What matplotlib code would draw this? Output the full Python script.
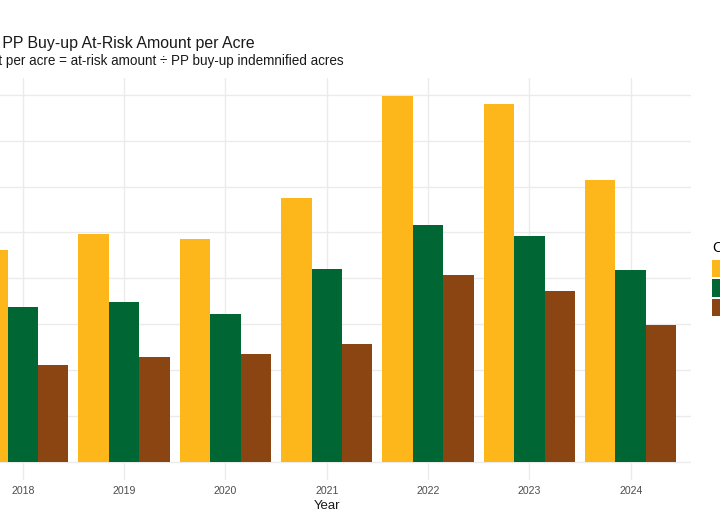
import numpy as np
import matplotlib
matplotlib.use("Agg")
import matplotlib.pyplot as plt

plt.rcParams['font.family'] = ['Liberation Sans', 'DejaVu Sans']

years = ["2018", "2019", "2020", "2021", "2022", "2023", "2024"]
crops = ["Corn", "Soybeans", "Wheat"]
corn = [46.1, 49.6, 48.6, 57.6, 79.7, 78.1, 61.5]
soybeans = [33.7, 34.9, 32.2, 42.1, 51.7, 49.3, 41.9]
wheat = [21.0, 22.9, 23.5, 25.7, 40.8, 37.2, 29.8]
colors = ["#FDB71B", "#006633", "#8B4513"]

series = [corn, soybeans, wheat]
x = np.arange(len(years))
width = 0.9 / 3

fig = plt.figure(figsize=(7.2, 5.3), dpi=100)
# panel runs a little past the left edge (the reference is cropped there)
ax = fig.add_axes([-0.0529, 0.0943, 1.0133, 0.7585])

for i, (vals, name, col) in enumerate(zip(series, crops, colors)):
    ax.bar(x + (i - 1) * width, vals, width=width, color=col, label=name,
           edgecolor="none", zorder=2)

ymax = max(max(s) for s in series)
ax.set_xlim(-0.6, len(years) - 0.4)
ax.set_ylim(-0.05 * ymax, 1.05 * ymax)
ax.set_xticks(x)
ax.set_xticklabels(years)
ax.set_yticks(np.arange(0, 81, 10))
ax.set_yticklabels([])  # y labels sit outside the cropped area

ax.grid(True, color="#EBEBEB", linewidth=1.0, zorder=0)
ax.set_axisbelow(True)
for s in ax.spines.values():
    s.set_visible(False)
ax.tick_params(length=0, labelsize=7.6, colors="#4D4D4D", pad=4)
ax.set_xlabel("Year", fontsize=9.5, color="#1A1A1A", labelpad=3)

fig.text(255 / 720, 1 - 47.7 / 530, "Average PP Buy-up At-Risk Amount per Acre",
         ha="right", va="baseline", fontsize=11.4, color="#1A1A1A")
fig.text(343.5 / 720, 1 - 64.8 / 530,
         "At-risk amount per acre = at-risk amount \u00f7 PP buy-up indemnified acres",
         ha="right", va="baseline", fontsize=9.75, color="#1A1A1A")

leg = fig.legend(loc="upper left", bbox_to_anchor=(712 / 720, 1 - 241 / 530),
                 title="Crop", frameon=False, fontsize=9, title_fontsize=10.5,
                 alignment="left", borderpad=0, borderaxespad=0,
                 handlelength=1.4, handleheight=1.78, labelspacing=0.15,
                 handletextpad=0.5)
# a bit more room between legend title and keys
leg._legend_box.sep = 0.15 * 9 + 2.2

fig.savefig("out.png", dpi=100)
